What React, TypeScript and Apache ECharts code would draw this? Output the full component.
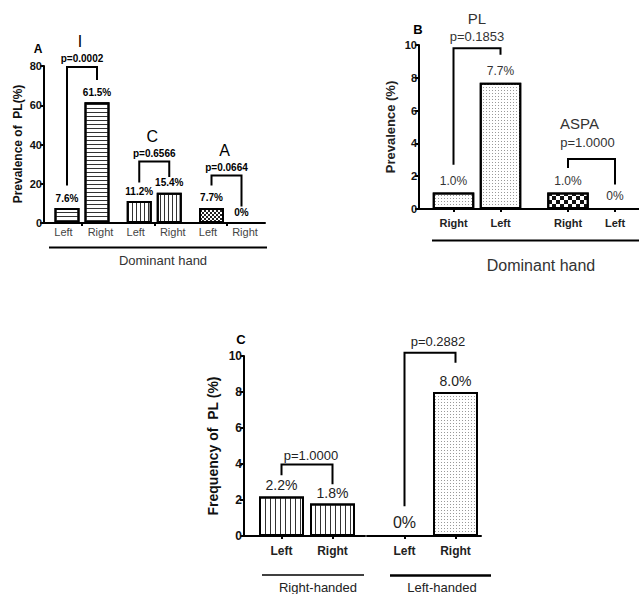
import { useEffect, useRef } from 'react';
import * as echarts from 'echarts';

const FONT = '"Liberation Sans", Arial, Helvetica, sans-serif';

// ---------------- data ----------------
// Panel A: prevalence of PL (%) by dominant hand
const aGroupNames = ['I', 'C', 'A'];
const aHandNames = ['Left', 'Right'];
const aValues = [
  [7.6, 61.5],
  [11.2, 15.4],
  [7.7, 0],
];
const aPValues = ['p=0.0002', 'p=0.6566', 'p=0.0664'];

// Panel B: prevalence (%) by dominant hand
const bGroupNames = ['PL', 'ASPA'];
const bHandNames = ['Right', 'Left'];
const bValues = [
  [1.0, 7.7],
  [1.0, 0],
];
const bPValues = ['p=0.1853', 'p=1.0000'];

// Panel C: frequency of PL (%)
const cGroupNames = ['Right-handed', 'Left-handed'];
const cHandNames = ['Left', 'Right'];
const cValues = [
  [2.2, 1.8],
  [0, 8.0],
];
const cPValues = ['p=1.0000', 'p=0.2882'];

// significance bracket heights (data units): [left foot, top, right foot]
const aBracketLevels = [
  [19.1, 79.5, 72.9],
  [20.6, 31.3, 23.4],
  [19.1, 24.2, 8.4],
];
const bBracketLevels = [
  [2.7, 9.8, 9.4],
  [2.5, 3.05, 1.5],
];
const cBracketLevels = [
  [3.38, 3.97, 2.88],
  [1.65, 10.18, 9.63],
];

// ---------------- styles ----------------
const hStripe = { symbol: 'rect', symbolSize: 1, dashArrayX: [1, 0], dashArrayY: [1, 3], color: '#333', backgroundColor: '#fff' };
const vStripeA = { symbol: 'rect', symbolSize: 1, dashArrayX: [1, 3], dashArrayY: [1, 0], color: '#333', backgroundColor: '#fff' };
const vStripeC = { symbol: 'rect', symbolSize: 1, dashArrayX: [1, 4], dashArrayY: [1, 0], color: '#333', backgroundColor: '#fff' };
const dots = { symbol: 'rect', symbolSize: 1, dashArrayX: [1, 2], dashArrayY: [1, 2], color: '#999', backgroundColor: '#fff' };
const checkSmall = { symbol: 'rect', symbolSize: 1, dashArrayX: [[2, 2], [0, 2, 2, 0]], dashArrayY: [2, 0], color: '#222', backgroundColor: '#fff' };
const checkBig = { symbol: 'rect', symbolSize: 1, dashArrayX: [[4, 4], [0, 4, 4, 0]], dashArrayY: [4, 0], color: '#111', backgroundColor: '#fff' };

const aPatterns = [[hStripe, hStripe], [vStripeA, vStripeA], [checkSmall, checkSmall]];
const bPatterns = [[dots, dots], [checkBig, checkBig]];
const cPatterns = [[vStripeC, vStripeC], [dots, dots]];

const fmtPct = (v: number) => (v === 0 ? '0%' : v.toFixed(1) + '%');

// layout helpers (axis units = px inside each grid)
const posA = (g: number, b: number) => 23 + 72.25 * g + 30 * b;
const posB = (g: number, b: number) => 34.5 + 114.5 * g + 47 * b;
const posC = (b: number) => 37.5 + 51 * b;

const nearest = (arr: number[], v: number) => {
  let best = 0;
  for (let i = 1; i < arr.length; i++) if (Math.abs(arr[i] - v) < Math.abs(arr[best] - v)) best = i;
  return best;
};

// graphic-component text style
const txt = (fontSize: number, fontWeight: string, fill: string) => ({
  fontSize,
  fontWeight,
  fontFamily: FONT,
  fill,
  textAlign: 'center',
  textVerticalAlign: 'middle',
});

// custom-series text style (native zrender props, no legacy conversion)
const ctxt = (fontSize: number, fontWeight: string, fill: string) => ({
  legacy: false,
  fontSize,
  fontWeight,
  fontFamily: FONT,
  fill,
  stroke: null,
  align: 'center',
  verticalAlign: 'middle',
});

function xAxisDef(gridIndex: number, width: number, ticks: number[], labelVals: number[], labelNames: string[], labelStyle: any, labelMargin: number) {
  return {
    type: 'value',
    gridIndex,
    min: 0,
    max: width,
    axisLine: { show: true, onZero: false, lineStyle: { color: '#000', width: 2 } },
    axisTick: { show: true, customValues: ticks, length: 3, lineStyle: { color: '#000', width: 2 } },
    axisLabel: {
      show: true,
      customValues: labelVals,
      margin: labelMargin,
      formatter: (v: number) => labelNames[nearest(labelVals, v)],
      fontFamily: FONT,
      ...labelStyle,
    },
    splitLine: { show: false },
  };
}

function yAxisDef(gridIndex: number, max: number, interval: number, show: boolean, fontSize: number) {
  return {
    type: 'value',
    gridIndex,
    show,
    min: 0,
    max,
    interval,
    axisLine: { show: true, onZero: false, lineStyle: { color: '#000', width: 2 } },
    axisTick: { show: true, length: 4, lineStyle: { color: '#000', width: 2 } },
    axisLabel: { margin: 2, fontSize, fontWeight: 'bold', color: '#111', fontFamily: FONT },
    splitLine: { show: false },
  };
}

function barSeries(axisIndex: number, values: number[][], pos: (g: number, b: number) => number, patterns: any[][], barWidth: number, label: any, zeroLabel?: any) {
  return {
    type: 'bar',
    xAxisIndex: axisIndex,
    yAxisIndex: axisIndex,
    barWidth,
    itemStyle: { color: '#fff', borderColor: '#000', borderWidth: 2 },
    label: { show: true, position: 'top', fontFamily: FONT, formatter: (p: any) => fmtPct(p.value[1]), ...label },
    data: values.flatMap((grp, g) =>
      grp.map((v, b) => {
        const item: any = { value: [pos(g, b), v], itemStyle: { decal: patterns[g][b] } };
        if (v === 0 && zeroLabel) item.label = zeroLabel;
        return item;
      })
    ),
  };
}

function bracketSeries(axisIndex: number, items: any[]) {
  return {
    type: 'custom',
    xAxisIndex: axisIndex,
    yAxisIndex: axisIndex,
    clip: false,
    silent: true,
    z: 10,
    itemStyle: { color: '#000' },
    encode: { x: [0, 1], y: [2, 3, 4] },
    data: items.map((it) => [it.x1, it.x2, it.levels[0], it.levels[1], it.levels[2]]),
    renderItem: (params: any, api: any) => {
      const it = items[params.dataIndex];
      const x1 = api.value(0);
      const x2 = api.value(1);
      const a = api.coord([x1, api.value(2)]);
      const b = api.coord([x1, api.value(3)]);
      const c = api.coord([x2, api.value(3)]);
      const d = api.coord([x2, api.value(4)]);
      const cx = (b[0] + c[0]) / 2;
      const children: any[] = [
        {
          type: 'polyline',
          shape: { points: [a, b, c, d] },
          style: { stroke: '#000', lineWidth: 2, fill: 'none', lineJoin: 'miter' },
        },
        {
          type: 'text',
          x: cx + it.pDx,
          y: b[1] - it.pDy,
          style: { text: it.p, ...ctxt(it.pFont[0], it.pFont[1], it.pFont[2]) },
        },
      ];
      if (it.title) {
        children.push({
          type: 'text',
          x: cx + it.tDx,
          y: b[1] - it.tDy,
          style: { text: it.title, ...ctxt(it.tFont[0], it.tFont[1], it.tFont[2]) },
        });
      }
      return { type: 'group', children };
    },
  };
}

export default function App() {
  const ref = useRef<HTMLDivElement>(null);

  useEffect(() => {
    if (!ref.current) return;
    const chart = echarts.init(ref.current, undefined, { renderer: 'svg' });

    const aTicks = aGroupNames.map((_, g) => posA(g, 0) + 15);
    const aLabelVals = aGroupNames.flatMap((_, g) => [posA(g, 0) + 15 - 18.5, posA(g, 0) + 15 + 18.5]);
    const aLabelNames = aGroupNames.flatMap(() => aHandNames);

    const bVals = bGroupNames.flatMap((_, g) => [posB(g, 0), posB(g, 1)]);
    const bLabelNames = bGroupNames.flatMap(() => bHandNames);

    const cVals = [posC(0), posC(1)];

    const aBrackets = aGroupNames.map((name, g) => ({
      x1: posA(g, 0),
      x2: posA(g, 1),
      levels: aBracketLevels[g],
      p: aPValues[g],
      title: name,
      pDx: 0,
      pDy: 8.5,
      tDx: -2,
      tDy: 25,
      pFont: [10, 'bold', '#000'],
      tFont: [16, 'normal', '#000'],
    }));

    const bOffsets = [
      { pDx: 0, pDy: 11.5, tDx: 0, tDy: 30 },
      { pDx: -4, pDy: 16.5, tDx: -12, tDy: 35 },
    ];
    const bBrackets = bGroupNames.map((name, g) => ({
      x1: posB(g, 0),
      x2: posB(g, 1),
      levels: bBracketLevels[g],
      p: bPValues[g],
      title: name,
      ...bOffsets[g],
      pFont: [13, 'normal', '#333'],
      tFont: [15, 'normal', '#333'],
    }));

    const cOffsets = [
      { pDx: 4, pDy: 9.5 },
      { pDx: 8, pDy: 11 },
    ];
    const cBrackets = cGroupNames.map((_, g) => ({
      x1: posC(0),
      x2: posC(1),
      levels: cBracketLevels[g],
      p: cPValues[g],
      ...cOffsets[g],
      pFont: [13, 'normal', '#222'],
    }));

    const cBarValuesByGrid = cValues.map((grp) => [grp]);

    const option: any = {
      animation: false,
      backgroundColor: '#fff',
      textStyle: { fontFamily: FONT },
      grid: [
        { left: 44, top: 66, width: 221, height: 157 },
        { left: 419, top: 45, width: 220, height: 164 },
        { left: 244, top: 356, width: 121, height: 180 },
        { left: 367, top: 356, width: 114, height: 180 },
      ],
      xAxis: [
        xAxisDef(0, 221, aTicks, aLabelVals, aLabelNames, { fontSize: 11, color: '#444' }, 3),
        xAxisDef(1, 220, bVals, bVals, bLabelNames, { fontSize: 11, fontWeight: 'bold', color: '#222' }, 8),
        xAxisDef(2, 121, cVals, cVals, cHandNames, { fontSize: 12, fontWeight: 'bold', color: '#222' }, 9),
        xAxisDef(3, 114, cVals, cVals, cHandNames, { fontSize: 12, fontWeight: 'bold', color: '#222' }, 9),
      ],
      yAxis: [
        yAxisDef(0, 80, 20, true, 11),
        yAxisDef(1, 10, 2, true, 11),
        yAxisDef(2, 10, 2, true, 12),
        yAxisDef(3, 10, 2, false, 12),
      ],
      series: [
        barSeries(0, aValues, posA, aPatterns, 25, { distance: 5, fontSize: 10, fontWeight: 'bold', color: '#000' }),
        barSeries(1, bValues, posB, bPatterns, 41.5, { distance: 6, fontSize: 12, color: '#333' }),
        barSeries(2, cBarValuesByGrid[0], (_g, b) => posC(b), [cPatterns[0]], 45, { distance: 4, fontSize: 14, color: '#222' }, { fontSize: 16, distance: 5 }),
        barSeries(3, cBarValuesByGrid[1], (_g, b) => posC(b), [cPatterns[1]], 45, { distance: 4, fontSize: 14, color: '#222' }, { fontSize: 16, distance: 5 }),
        bracketSeries(0, aBrackets),
        bracketSeries(1, bBrackets),
        bracketSeries(2, [cBrackets[0]]),
        bracketSeries(3, [cBrackets[1]]),
      ],
      graphic: [
        // Panel A
        { type: 'text', x: 38, y: 49, style: { text: 'A', ...txt(12, 'bold', '#000') } },
        { type: 'text', x: 18, y: 144, rotation: Math.PI / 2, style: { text: 'Prevalence of  PL(%)', ...txt(12, 'bold', '#111') } },
        { type: 'line', shape: { x1: 49, y1: 247.5, x2: 267, y2: 247.5 }, style: { stroke: '#000', lineWidth: 2 } },
        { type: 'text', x: 163, y: 260, style: { text: 'Dominant hand', ...txt(13, 'normal', '#333') } },
        // Panel B
        { type: 'text', x: 418, y: 29, style: { text: 'B', ...txt(13, 'bold', '#000') } },
        { type: 'text', x: 390, y: 127, rotation: Math.PI / 2, style: { text: 'Prevalence (%)', ...txt(13, 'bold', '#222') } },
        { type: 'line', shape: { x1: 432, y1: 240.5, x2: 639, y2: 240.5 }, style: { stroke: '#000', lineWidth: 2 } },
        { type: 'text', x: 541, y: 265, style: { text: 'Dominant hand', ...txt(16, 'normal', '#333') } },
        // Panel C
        { type: 'text', x: 241, y: 339.5, style: { text: 'C', ...txt(13, 'bold', '#000') } },
        { type: 'text', x: 213, y: 446, rotation: Math.PI / 2, style: { text: 'Frequency of  PL (%)', ...txt(14, 'bold', '#111') } },
        { type: 'line', shape: { x1: 262, y1: 575, x2: 364, y2: 575 }, style: { stroke: '#000', lineWidth: 1.5 } },
        { type: 'line', shape: { x1: 390, y1: 575.5, x2: 491, y2: 575.5 }, style: { stroke: '#000', lineWidth: 2.5 } },
        { type: 'text', x: 318, y: 587, style: { text: cGroupNames[0], ...txt(13, 'normal', '#222') } },
        { type: 'text', x: 442, y: 587, style: { text: cGroupNames[1], ...txt(13, 'normal', '#222') } },
      ],
    };

    chart.setOption(option);
    return () => chart.dispose();
  }, []);

  return <div ref={ref} style={{ position: 'fixed', left: 0, top: 0, width: 639, height: 594 }} />;
}
